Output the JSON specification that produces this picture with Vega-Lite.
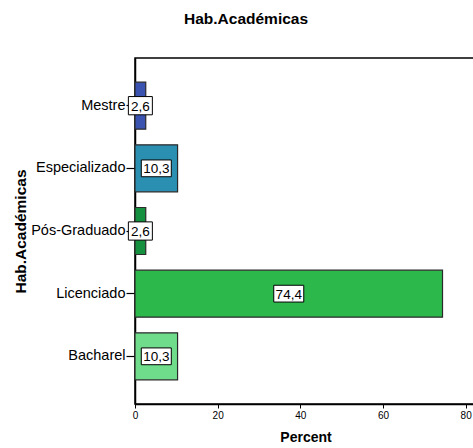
{
  "$schema": "https://vega.github.io/schema/vega-lite/v6.json",
  "autosize": "none",
  "width": 341,
  "height": 346,
  "padding": {"left": 135, "top": 58, "right": 0, "bottom": 44},
  "background": "white",
  "config": {
    "view": {"stroke": "black", "strokeWidth": 1.5},
    "font": "Liberation Sans",
    "locale": {"number": {"decimal": ",", "thousands": ".", "grouping": [3], "currency": ["", "€"]}}
  },
  "title": {
    "text": "Hab.Académicas",
    "fontSize": 15.5,
    "fontWeight": "bold",
    "font": "Liberation Sans",
    "color": "black",
    "anchor": "start",
    "frame": "group",
    "dx": 49,
    "offset": 31
  },
  "data": {
    "values": [
      {"cat": "Mestre", "pct": 2.6},
      {"cat": "Especializado", "pct": 10.3},
      {"cat": "Pós-Graduado", "pct": 2.6},
      {"cat": "Licenciado", "pct": 74.4},
      {"cat": "Bacharel", "pct": 10.3}
    ]
  },
  "encoding": {
    "y": {
      "field": "cat",
      "type": "nominal",
      "sort": ["Mestre", "Especializado", "Pós-Graduado", "Licenciado", "Bacharel"],
      "scale": {"paddingInner": 0.25, "paddingOuter": 0.386},
      "axis": {
        "title": "Hab.Académicas",
        "titleFontSize": 15.5,
        "titleFontWeight": "bold",
        "titleColor": "black",
        "titlePadding": 2,
        "labelFontSize": 14.5,
        "labelColor": "black",
        "labelPadding": 1,
        "tickSize": 9,
        "tickColor": "black",
        "tickWidth": 1.2,
        "domainColor": "black",
        "domainWidth": 1.5
      }
    }
  },
  "layer": [
    {
      "mark": {"type": "bar", "stroke": "#2a2a2a", "strokeWidth": 1.2},
      "encoding": {
        "x": {
          "field": "pct",
          "type": "quantitative",
          "scale": {"domain": [0, 82.5], "nice": false},
          "axis": {
            "title": "Percent",
            "titleFontSize": 14,
            "titleFontWeight": "bold",
            "titleColor": "black",
            "titlePadding": 10,
            "values": [0, 20, 40, 60, 80],
            "labelFontSize": 10,
            "labelColor": "black",
            "labelFlush": false,
            "tickSize": 4,
            "tickColor": "black",
            "domainColor": "black",
            "domainWidth": 1.5,
            "grid": false
          }
        },
        "color": {
          "field": "cat",
          "type": "nominal",
          "scale": {
            "domain": ["Mestre", "Especializado", "Pós-Graduado", "Licenciado", "Bacharel"],
            "range": ["#3a52b0", "#2a8fb0", "#15903f", "#2db84c", "#6edc8a"]
          },
          "legend": null
        }
      }
    },
    {
      "transform": [{"calculate": "datum.pct / 2", "as": "mid"}],
      "mark": {"type": "point", "filled": true, "fill": "white", "stroke": "black", "strokeWidth": 1, "opacity": 1},
      "encoding": {
        "x": {"field": "mid", "type": "quantitative"},
        "shape": {
          "condition": {"test": "datum.pct < 5", "value": "M-1,-0.76H1V0.76H-1Z"},
          "value": "M-1,-0.56H1V0.56H-1Z"
        },
        "size": {
          "condition": {"test": "datum.pct < 5", "value": 576},
          "value": 900
        }
      }
    },
    {
      "transform": [{"calculate": "datum.pct / 2", "as": "mid"}],
      "mark": {"type": "text", "fontSize": 13.5, "color": "black", "baseline": "middle", "align": "center", "dy": 1},
      "encoding": {
        "x": {"field": "mid", "type": "quantitative"},
        "text": {"field": "pct", "type": "quantitative", "format": ".1f"}
      }
    }
  ]
}
